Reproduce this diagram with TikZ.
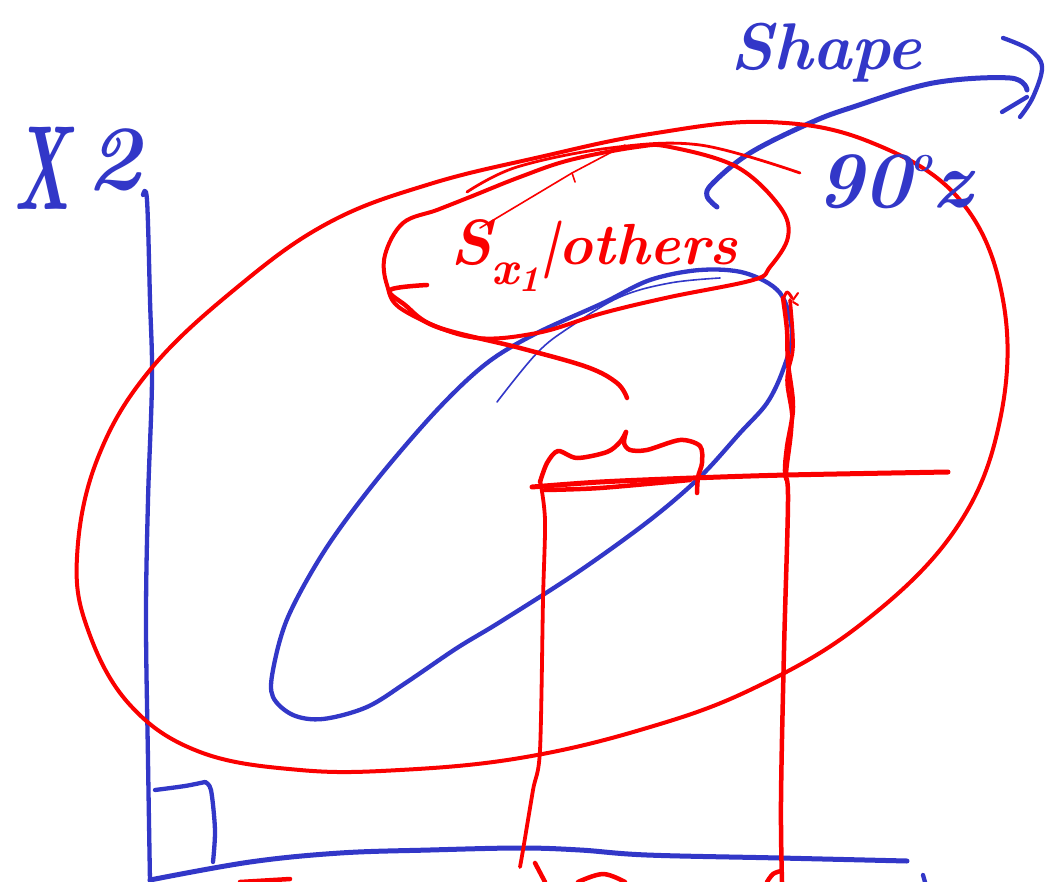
\documentclass[tikz,border=0pt]{standalone}
\definecolor{inkblue}{RGB}{50,55,200}
\definecolor{inkred}{RGB}{250,0,0}
\begin{document}
\begin{tikzpicture}[x=1pt,y=-1pt,
  bl/.style={draw=inkblue,line width=4.3pt,line cap=round,line join=round},
  blthin/.style={draw=inkblue,line width=1.6pt,line cap=round},
  rd/.style={draw=inkred,line width=4.5pt,line cap=round,line join=round},
  rdthin/.style={draw=inkred,line width=1.6pt,line cap=round},
  bluetext/.style={text=inkblue,inner sep=0pt,font=\bfseries\itshape},
  redtext/.style={text=inkred,inner sep=0pt,font=\bfseries\itshape}]
\useasboundingbox (0,0) rectangle (1051,882);
\fill[white] (0,0) rectangle (1051,882);

% ---------- blue axes ----------
\draw[bl] plot[smooth,tension=0.6] coordinates {(143,195) (147,200) (150,300) (152,380) (148,500) (146,620) (148,760) (150,882)};
\draw[bl,line width=5pt] plot[smooth,tension=0.6] coordinates {(150,880) (250,862) (340,853) (430,850) (520,848) (580,850) (647,855) (780,858) (907,861)};
% right-angle mark
\draw[bl] plot[smooth,tension=0.5] coordinates {(155,790) (185,786) (205,782)};
\draw[bl] plot[smooth,tension=0.5] coordinates {(205,782) (211,790) (215,830) (213,862)};

% ---------- blue ellipse ----------
\draw[bl] plot[smooth cycle,tension=0.55] coordinates {
 (700,270) (745,273) (780,293) (792,333) (783,370) (767,403) (740,433) (700,477)
 (650,520) (578,572) (500,622) (457,648) (407,682) (367,707) (323,719) (293,715)
 (273,697) (273,670) (288,617) (325,550) (375,482) (437,410) (487,363) (537,333)
 (603,303) (650,280)};
\draw[blthin] plot[smooth,tension=0.6] coordinates {(497,402) (537,353) (570,327) (620,297) (670,283) (720,278)};

% ---------- blue rotation arrow ----------
\draw[bl,line width=5pt] plot[smooth,tension=0.6] coordinates {(717,207) (707,196) (713,183) (750,153) (810,123) (853,107) (933,83) (1010,78) (1027,90)};
\draw[bl] plot[smooth,tension=0.6] coordinates {(1003,38) (1030,50) (1042,67) (1033,97) (1020,117)};
\draw[bl] (1002,112) -- (1027,97);

% ---------- red big ellipse ----------
\draw[rd,line width=4pt] plot[smooth cycle,tension=0.65] coordinates {
 (240,285) (330,222) (430,184) (540,157) (650,134) (767,122)
 (870,142) (960,200) (1003,300) (1000,420) (955,530) (860,625)
 (750,690) (640,730) (520,758) (400,770) (300,770) (200,752) (130,705)
 (88,630) (77,557) (97,460) (150,370)};

% stray strokes at the top
\draw[rd,line width=2.8pt] plot[smooth,tension=0.6] coordinates {(467,192) (517,167) (610,148) (700,145) (800,173)};
\draw[rdthin] (480,228) -- (572,173) -- (625,145);
\draw[rdthin] (572,173) -- (575,182);

% ---------- red small ellipse ----------
\draw[rd,line width=4pt] plot[smooth cycle,tension=0.6] coordinates {
 (670,147) (737,167) (780,207) (788,237) (770,267) (753,280) (670,297) (603,313)
 (537,333) (470,337) (403,310) (387,285) (385,255) (403,223) (437,210) (470,197)
 (520,177) (570,160) (637,147)};
% hook and tail to brace
\draw[rd] plot[smooth,tension=0.6] coordinates {(427,285) (390,290) (405,305) (437,327) (520,348) (587,367) (617,383) (627,398)};

% ---------- brace ----------
\draw[rd] plot[smooth,tension=0.5] coordinates {(540,482) (547,463) (558,451) (577,458) (607,452) (620,442) (626,432)};
\draw[rd] plot[smooth,tension=0.5] coordinates {(626,432) (624,443) (630,450) (647,450) (680,440) (700,446) (702,463) (698,477) (697,493)};

% ---------- red horizontal ----------
\draw[rd,line width=5pt] plot[smooth,tension=0.5] coordinates {(532,487) (600,482) (693,478) (787,475) (948,472)};
\draw[rd] plot[smooth,tension=0.5] coordinates {(545,490) (600,488) (690,480)};

% ---------- red verticals ----------
\draw[rd,line width=3.8pt] plot[smooth,tension=0.5] coordinates {(540,480) (545,520) (543,600) (540,750) (533,790) (523,850) (520,867)};
\draw[rd] plot[smooth,tension=0.6] coordinates {(783,298) (787,330) (788,363) (793,407) (787,447) (785,473) (788,500) (784,650) (781,800) (782,882)};
\draw[rd,line width=3.6pt] plot[smooth,tension=0.6] coordinates {(790,300) (793,347) (787,380) (792,420) (787,467) (786,480)};
\draw[rd,line width=3pt] plot[smooth,tension=0.6] coordinates {(783,300) (787,292) (792,298)};
\draw[rdthin,line width=2pt] (793,300) -- (798,293);
\draw[rdthin,line width=2pt] (793,302) -- (798,305);

% ---------- cut-off strokes at the bottom ----------
\draw[rd] (535,863) -- (545,882);
\draw[rd] plot[smooth,tension=0.6] coordinates {(578,882) (603,874) (625,882)};
\draw[rd] plot[smooth,tension=0.6] coordinates {(767,882) (773,874) (781,871)};
\draw[rd] (240,882) -- (290,879);
\draw[bl] (923,875) -- (925,882);

% ---------- texts ----------
\node[bluetext,anchor=base] (shape) at (826,70) {\fontsize{66}{66}\selectfont Shape};
\node[bluetext,anchor=base] (deg) at (894,208) {\fontsize{80}{80}\selectfont 90\raisebox{0.45em}{\fontsize{36}{36}\selectfont o}z};
\node[bluetext,anchor=base] (xletter) at (42,210) {\scalebox{0.55}[1]{\fontsize{120}{120}\selectfont X}};
\node[bluetext,anchor=base] (xtwo) at (114,190) {\fontsize{92}{92}\selectfont 2};
\node[redtext,anchor=base] (sx) at (594,265) {\fontsize{64}{64}\selectfont S\raisebox{-0.3em}{\fontsize{48}{48}\selectfont x\raisebox{-0.15em}{\fontsize{36}{36}\selectfont 1}}\fontsize{58}{58}\selectfont |others};
\end{tikzpicture}
\end{document}
